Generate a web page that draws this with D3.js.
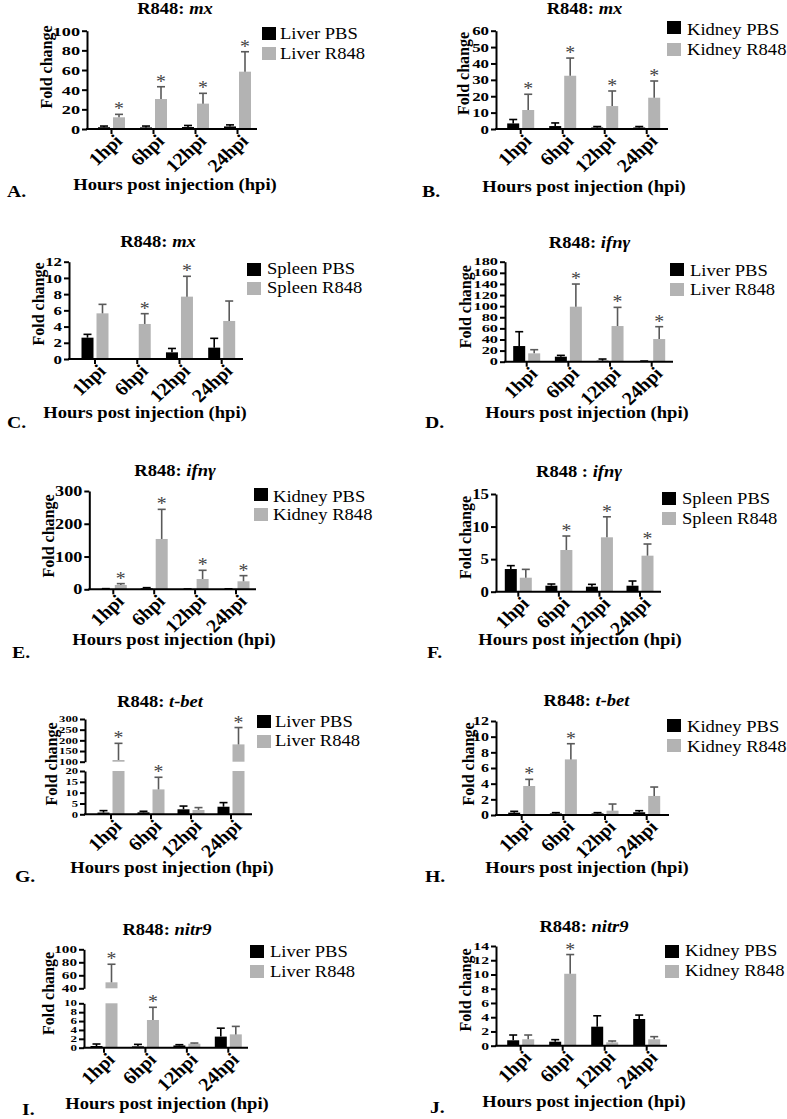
<!DOCTYPE html>
<html><head><meta charset="utf-8">
<script src="https://cdn.jsdelivr.net/npm/d3@7"></script>
<style>
body{margin:0;background:#fff}
svg{display:block}
text{font-family:"Liberation Serif","Times New Roman",Times,serif}
</style>
</head><body>
<svg id="c" width="787" height="1119"></svg>
<script>
// ---------------- DATA ----------------
const categories = ["1hpi", "6hpi", "12hpi", "24hpi"];
const panelLetters = ["A.", "B.", "C.", "D.", "E.", "F.", "G.", "H.", "I.", "J."];
const genes = ["mx", "mx", "mx", "ifnγ", "ifnγ", "ifnγ", "t-bet", "t-bet", "nitr9", "nitr9"];
const tissues = ["Liver", "Kidney", "Spleen", "Liver", "Kidney", "Spleen", "Liver", "Kidney", "Liver", "Kidney"];
const groups = ["PBS", "R848"];

// A: Liver mx
const aPBS = [1.8, 1.6, 2.0, 2.6], aPBSsd = [1.2, 1.4, 1.6, 1.6];
const aR848 = [11.9, 30.5, 25.8, 58.3], aR848sd = [3.0, 12.5, 10.5, 20.3];
const aStars = [1, 1, 1, 1];
const aTicks = [0, 20, 40, 60, 80, 100];
// B: Kidney mx
const bPBS = [3.4, 1.8, 0.9, 0.9], bPBSsd = [2.4, 1.9, 0.6, 0.6];
const bR848 = [11.6, 32.5, 14.0, 19.1], bR848sd = [9.6, 10.8, 9.2, 10.2];
const bStars = [1, 1, 1, 1];
const bTicks = [0, 10, 20, 30, 40, 50, 60];
// C: Spleen mx
const cPBS = [2.63, 0.05, 0.82, 1.4], cPBSsd = [0.41, 0, 0.48, 1.15];
const cR848 = [5.63, 4.32, 7.69, 4.69], cR848sd = [1.11, 1.27, 2.51, 2.46];
const cStars = [0, 1, 1, 0];
const cTicks = [0, 2, 4, 6, 8, 10, 12];
// D: Liver ifng
const dPBS = [28.2, 9.0, 1.8, 0.8], dPBSsd = [25.8, 2.4, 3.0, 0.4];
const dR848 = [15.0, 99.0, 64.2, 40.8], dR848sd = [6.6, 40.8, 33.6, 22.2];
const dStars = [0, 1, 1, 1];
const dTicks = [0, 20, 40, 60, 80, 100, 120, 140, 160, 180];
// E: Kidney ifng
const ePBS = [1.0, 3.0, 0.5, 0.8], ePBSsd = [1.0, 2.0, 0.5, 0.7];
const eR848 = [13.2, 153.6, 31.5, 24.4], eR848sd = [4.1, 90.4, 26.5, 17.3];
const eStars = [1, 1, 1, 1];
const eTicks = [0, 100, 200, 300];
// F: Spleen ifng
const fPBS = [3.48, 0.92, 0.77, 0.92], fPBSsd = [0.52, 0.26, 0.36, 0.72];
const fR848 = [2.15, 6.4, 8.35, 5.53], fR848sd = [1.28, 2.15, 3.15, 1.79];
const fStars = [0, 1, 1, 1];
const fTicks = [0, 5, 10, 15];
// G: Liver t-bet (broken axis)
const gPBS = [0.8, 0.9, 2.3, 3.5], gPBSsd = [0.9, 0.5, 1.5, 1.9];
const gR848 = [108, 11.5, 2.0, 181], gR848sd = [78, 5.6, 1.1, 79];
const gStars = [1, 1, 0, 1];
const gTicksLow = [0, 5, 10, 15, 20], gTicksHigh = [100, 150, 200, 250, 300];
// H: Kidney t-bet
const hPBS = [0.3, 0.2, 0.2, 0.35], hPBSsd = [0.17, 0.1, 0.1, 0.2];
const hR848 = [3.7, 7.1, 0.55, 2.43], hR848sd = [0.85, 2.0, 0.85, 1.14];
const hStars = [1, 1, 0, 0];
const hTicks = [0, 2, 4, 6, 8, 10, 12];
// I: Liver nitr9 (broken axis)
const iPBS = [0.38, 0.3, 0.5, 2.5], iPBSsd = [0.45, 0.45, 0.18, 1.9];
const iR848 = [49.2, 6.24, 0.9, 3.0], iR848sd = [27.8, 2.86, 0.15, 1.8];
const iStars = [1, 1, 0, 0];
const iTicksLow = [0, 2, 4, 6, 8, 10], iTicksHigh = [40, 60, 80, 100];
// J: Kidney nitr9
const jPBS = [0.76, 0.56, 2.67, 3.75], jPBSsd = [0.74, 0.29, 1.53, 0.55];
const jR848 = [0.9, 10.1, 0.47, 0.9], jR848sd = [0.6, 2.7, 0.19, 0.37];
const jStars = [0, 1, 0, 0];
const jTicks = [0, 2, 4, 6, 8, 10, 12, 14];

// ---------------- LAYOUT ----------------
const GREY = "#b3b3b3", ERRGREY = "#5a5a5a", STAR = "#444";
const SX = 1.16;
const panels = [
  {pbs:aPBS, pbsSd:aPBSsd, r:aR848, rSd:aR848sd, stars:aStars, ax0:87, ax1:257, c1:111.5, c4:237.5,
   segs:[{d:[0,100], r:[129,30.7], t:aTicks}], tfs:13.5, tsx:1.35, title:[175,14], sep:": ",
   xt:[175,190], letter:[7,197], leg:[262,27,47,280,39,59], yt:[46,67]},
  {pbs:bPBS, pbsSd:bPBSsd, r:bR848, rSd:bR848sd, stars:bStars, ax0:496, ax1:668, c1:520.7, c4:646.7,
   segs:[{d:[0,60], r:[129,30.7], t:bTicks}], tfs:12.5, tsx:1.35, title:[584.5,14], sep:": ",
   xt:[584,191.7], letter:[422,197], leg:[667,21,43,687,35,55], yt:[463.5,73.5]},
  {pbs:cPBS, pbsSd:cPBSsd, r:cR848, rSd:cR848sd, stars:cStars, ax0:69, ax1:243, c1:95, c4:221.7,
   segs:[{d:[0,12], r:[359,261.7], t:cTicks}], tfs:13, tsx:1.3, title:[158,246.7], sep:": ",
   xt:[145,418], letter:[7,428], leg:[247,263,282,267,274,292.7], yt:[38.5,304]},
  {pbs:dPBS, pbsSd:dPBSsd, r:dR848, rSd:dR848sd, stars:dStars, ax0:505, ax1:673, c1:526.7, c4:651.7,
   segs:[{d:[0,180], r:[361.7,261.7], t:dTicks, sy:0.85}], tfs:11.3, tsx:1.45, title:[589.5,248], sep:": ",
   xt:[587,418], letter:[425,428], leg:[670,263,283,690,276,295], yt:[465,306.7]},
  {pbs:ePBS, pbsSd:ePBSsd, r:eR848, rSd:eR848sd, stars:eStars, ax0:89.3, ax1:256, c1:113.3, c4:236,
   segs:[{d:[0,300], r:[589.3,491], t:eTicks}], tfs:14, tsx:1.3, title:[175,476], sep:": ",
   xt:[174,645], letter:[12,658], leg:[254,488,508,273,501.7,520], yt:[48.5,536]},
  {pbs:fPBS, pbsSd:fPBSsd, r:fR848, rSd:fR848sd, stars:fStars, ax0:496, ax1:661, c1:518.3, c4:640,
   segs:[{d:[0,15], r:[591.7,494], t:fTicks}], tfs:14, tsx:1.2, title:[579,477], sep:" : ",
   xt:[580,645], letter:[427,658], leg:[662,492,512,682,504,524], yt:[465,537.5]},
  {pbs:gPBS, pbsSd:gPBSsd, r:gR848, rSd:gR848sd, stars:gStars, ax0:85, ax1:252, c1:111, c4:231,
   segs:[{d:[0,20], r:[814.3,771], t:gTicksLow, sy:0.85},{d:[100,300], r:[761.7,719], t:gTicksHigh, sy:0.85}], tfs:10.5, tsx:1.2,
   title:[160,707], sep:": ", xt:[172,873], letter:[15,882], leg:[257,715,735,275,726.7,746], yt:[51.5,764]},
  {pbs:hPBS, pbsSd:hPBSsd, r:hR848, rSd:hR848sd, stars:hStars, ax0:496, ax1:669, c1:521.7, c4:646.7,
   segs:[{d:[0,12], r:[815,721], t:hTicks}], tfs:12.3, tsx:1.3, title:[586.5,705.7], sep:": ",
   xt:[587,873], letter:[425,882], leg:[667,719,739,687,731.7,751.7], yt:[468.5,764]},
  {pbs:iPBS, pbsSd:iPBSsd, r:iR848, rSd:iR848sd, stars:iStars, ax0:84, ax1:248, c1:104, c4:228.3,
   segs:[{d:[0,10], r:[1047.7,1003.3], t:iTicksLow, fs:9, sy:0.8},{d:[40,100], r:[988.3,949.3], t:iTicksHigh}], tfs:10.5, tsx:1.45,
   title:[167,935], sep:": ", xt:[167,1109], letter:[22,1115], leg:[250,945,965,270,956.7,976.7], yt:[48.5,993.5]},
  {pbs:jPBS, pbsSd:jPBSsd, r:jR848, rSd:jR848sd, stars:jStars, ax0:496, ax1:667, c1:520.7, c4:646.7,
   segs:[{d:[0,14], r:[1045.7,946], t:jTicks}], tfs:10.8, tsx:1.45, title:[584,931.7], sep:": ",
   xt:[584,1107], letter:[430,1113], leg:[665,945,965,685,956,976], yt:[465,990]}
];

const svg = d3.select("#c");

function stext(g, x, y, str, o = {}) {
  const t = g.append("text")
    .attr("transform", `translate(${x},${y}) scale(${o.sx ?? SX},1)`)
    .attr("font-size", o.size ?? 16)
    .attr("font-weight", o.weight ?? "bold")
    .attr("text-anchor", o.anchor ?? "start")
    .attr("fill", o.fill ?? "#000");
  if (str !== null) t.text(str);
  return t;
}

const BW = 12, GAP = 3;

panels.forEach((p, pi) => {
  const g = svg.append("g");
  const x = d3.scalePoint().domain(categories).range([p.c1, p.c4]);
  p.segs.forEach(s => { s.y = d3.scaleLinear().domain(s.d).range(s.r); });
  const y0 = p.segs[0].y(0);

  // y axes (one per segment)
  p.segs.forEach(s => {
    const ax = d3.axisLeft(s.y).tickValues(s.t).tickSize(5).tickSizeOuter(0).tickPadding(2).tickFormat(d3.format("d"));
    const ag = g.append("g").attr("transform", `translate(${p.ax0},0)`).call(ax);
    ag.select(".domain").attr("stroke", "#000").attr("stroke-width", 2);
    ag.selectAll(".tick line").attr("stroke", "#000").attr("stroke-width", 2);
    const sy = s.sy ?? 1;
    ag.selectAll(".tick text")
      .attr("font-family", '"Liberation Serif","Times New Roman",Times,serif')
      .attr("font-weight", "bold").attr("font-size", s.fs ?? p.tfs).attr("fill", "#000")
      .attr("x", -7 / p.tsx).attr("transform", `scale(${p.tsx},${sy})`);
  });

  // bars
  const series = [
    {v: p.pbs, sd: p.pbsSd, fill: "#000", err: "#000", off: -GAP / 2 - BW},
    {v: p.r, sd: p.rSd, fill: GREY, err: ERRGREY, off: GAP / 2}
  ];
  series.forEach((se, si) => {
    categories.forEach((c, k) => {
      const v = se.v[k], bx = x(c) + se.off;
      p.segs.forEach(s => {
        const lo = s.d[0], hi = s.d[1];
        if (v > lo) {
          const top = Math.min(v, hi);
          g.append("rect").attr("x", bx).attr("width", BW)
            .attr("y", s.y(top)).attr("height", s.y(lo) - s.y(top)).attr("fill", se.fill);
        }
      });
      const et = v + se.sd[k];
      const seg = p.segs.find(s => v >= s.d[0] && v <= s.d[1]) || p.segs[0];
      const cx = bx + BW / 2;
      if (se.sd[k] > 0) {
        g.append("line").attr("x1", cx).attr("x2", cx).attr("y1", seg.y(v)).attr("y2", seg.y(et))
          .attr("stroke", se.err).attr("stroke-width", 1.6);
        g.append("line").attr("x1", cx - 4).attr("x2", cx + 4).attr("y1", seg.y(et)).attr("y2", seg.y(et))
          .attr("stroke", se.err).attr("stroke-width", 1.6);
      }
      if (si === 1 && p.stars[k]) {
        stext(g, cx, seg.y(et) + 1, "*", {size: 18, weight: "normal", anchor: "middle", fill: STAR, sx: 1.1});
      }
    });
  });

  // x axis
  g.append("line").attr("x1", p.ax0 - 1).attr("x2", p.ax1).attr("y1", y0).attr("y2", y0)
    .attr("stroke", "#000").attr("stroke-width", 2);
  categories.forEach(c => {
    g.append("line").attr("x1", x(c)).attr("x2", x(c)).attr("y1", y0).attr("y2", y0 + 5)
      .attr("stroke", "#000").attr("stroke-width", 2);
    g.append("text")
      .attr("transform", `translate(${x(c) + 12},${y0 + 13}) scale(1.08,1) rotate(-45)`)
      .attr("text-anchor", "end").attr("font-weight", "bold").attr("font-size", 18.5).text(c);
  });

  // title
  const tt = stext(g, p.title[0], p.title[1], null, {anchor: "middle", size: 16});
  tt.append("tspan").text("R848" + p.sep);
  tt.append("tspan").attr("font-style", "italic").text(genes[pi]);

  // y title
  g.append("text").attr("transform", `translate(${p.yt[0] + 5.5},${p.yt[1]}) rotate(-90)`)
    .attr("text-anchor", "middle").attr("font-weight", "bold").attr("font-size", 16).text("Fold change");

  // x title
  stext(g, p.xt[0], p.xt[1], "Hours post injection (hpi)", {anchor: "middle", size: 16});

  // panel letter
  stext(g, p.letter[0], p.letter[1], panelLetters[pi], {size: 17});

  // legend
  const L = p.leg;
  [[L[1], "#000"], [L[2], GREY]].forEach(([yy, col], li) => {
    g.append("rect").attr("x", L[0]).attr("y", yy).attr("width", 14).attr("height", 13).attr("fill", col);
    stext(g, L[3], L[4 + li], tissues[pi] + " " + groups[li], {size: 16, weight: "normal"});
  });
});
</script>
</body></html>
